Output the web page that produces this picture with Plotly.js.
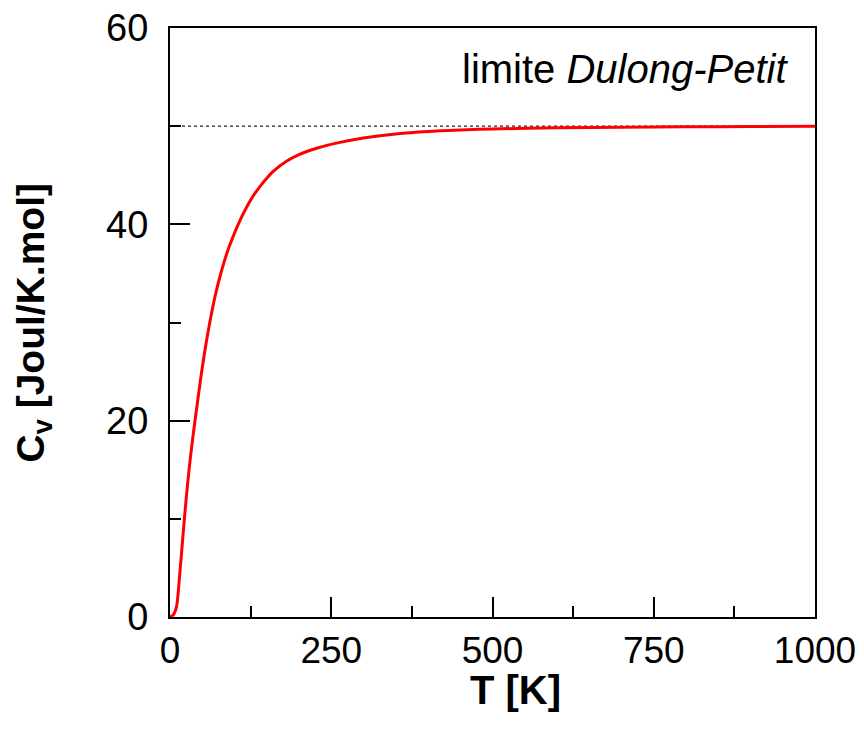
<!DOCTYPE html>
<html>
<head>
<meta charset="utf-8">
<script src="https://cdn.plot.ly/plotly-3.0.1.min.js"></script>
<style>html,body{margin:0;padding:0;background:#fff;}#chart{width:864px;height:733px;}</style>
</head>
<body>
<div id="chart"></div>
<script>
// Temperature (K) and heat capacity Cv (J/K.mol)
const temperatureK = [0, 5, 10, 15, 20, 25, 30, 35, 40, 50, 60, 70, 80, 90, 100, 110, 120, 130, 140, 150, 160, 180, 200, 230, 260, 300, 350, 400, 450, 500, 600, 700, 800, 900, 1000];
const heatCapacity = [0, 0.2, 1.0, 4.3, 8.2, 12.0, 15.3, 18.1, 20.6, 25.4, 29.4, 32.7, 35.3, 37.4, 39.1, 40.6, 41.9, 43.0, 43.9, 44.7, 45.4, 46.4, 47.1, 47.8, 48.3, 48.8, 49.2, 49.45, 49.6, 49.72, 49.83, 49.89, 49.93, 49.96, 49.98];
// Dulong-Petit limit
const limitT = [0, 1000];
const limitCv = [50, 50];
const limitLabel = 'limite <i>Dulong-Petit</i>';
const xTitle = '<b>T [K]</b>';
const yTitle = '<b>C<sub>v</sub> [Joul/K.mol]</b>';
const xTickVals = [0, 250, 500, 750, 1000];
const yTickVals = [0, 20, 40, 60];

const font = 'Liberation Sans, Arial, sans-serif';

const traces = [
  {x: limitT, y: limitCv, mode: 'lines', line: {color: '#222', width: 1.3, dash: 'dot'}, hoverinfo: 'skip'},
  {x: temperatureK, y: heatCapacity, mode: 'lines', line: {color: '#ff0000', width: 3, shape: 'spline', smoothing: 0.8}}
];

const layout = {
  width: 864, height: 733,
  margin: {l: 170, r: 49, t: 28, b: 116},
  paper_bgcolor: '#fff', plot_bgcolor: '#fff',
  showlegend: false,
  font: {family: font, color: '#000'},
  xaxis: {
    range: [0, 1000], tickvals: xTickVals, ticks: 'inside', ticklen: 20, tickwidth: 2, tickcolor: '#000',
    minor: {dtick: 125, ticks: 'inside', ticklen: 11, tickwidth: 2, tickcolor: '#000'},
    showline: true, linewidth: 2, linecolor: '#000', mirror: true, showgrid: false, zeroline: false,
    tickfont: {size: 37, family: font}, ticklabelstandoff: 0
  },
  yaxis: {
    range: [0, 60], tickvals: yTickVals, ticks: 'inside', ticklen: 20, tickwidth: 2, tickcolor: '#000',
    minor: {dtick: 10, ticks: 'inside', ticklen: 11, tickwidth: 2, tickcolor: '#000'},
    showline: true, linewidth: 2, linecolor: '#000', mirror: true, showgrid: false, zeroline: false,
    tickfont: {size: 38, family: font}, ticklabelstandoff: 12
  },
  annotations: [
    {x: 1000, y: 55.8, xref: 'x', yref: 'y', xanchor: 'right', yanchor: 'middle', xshift: -25,
     text: limitLabel, showarrow: false, font: {size: 40, family: font, color: '#000'}},
    {x: 0.5364, y: -0.124, xref: 'paper', yref: 'paper', xanchor: 'center', yanchor: 'middle',
     text: xTitle, showarrow: false, font: {size: 40, family: font, color: '#000'}},
    {x: -0.2124, y: 0.5, xref: 'paper', yref: 'paper', xanchor: 'center', yanchor: 'middle', textangle: -90,
     text: yTitle, showarrow: false, font: {size: 39, family: font, color: '#000'}}
  ]
};

Plotly.newPlot('chart', traces, layout, {displayModeBar: false, staticPlot: true});
</script>
</body>
</html>
